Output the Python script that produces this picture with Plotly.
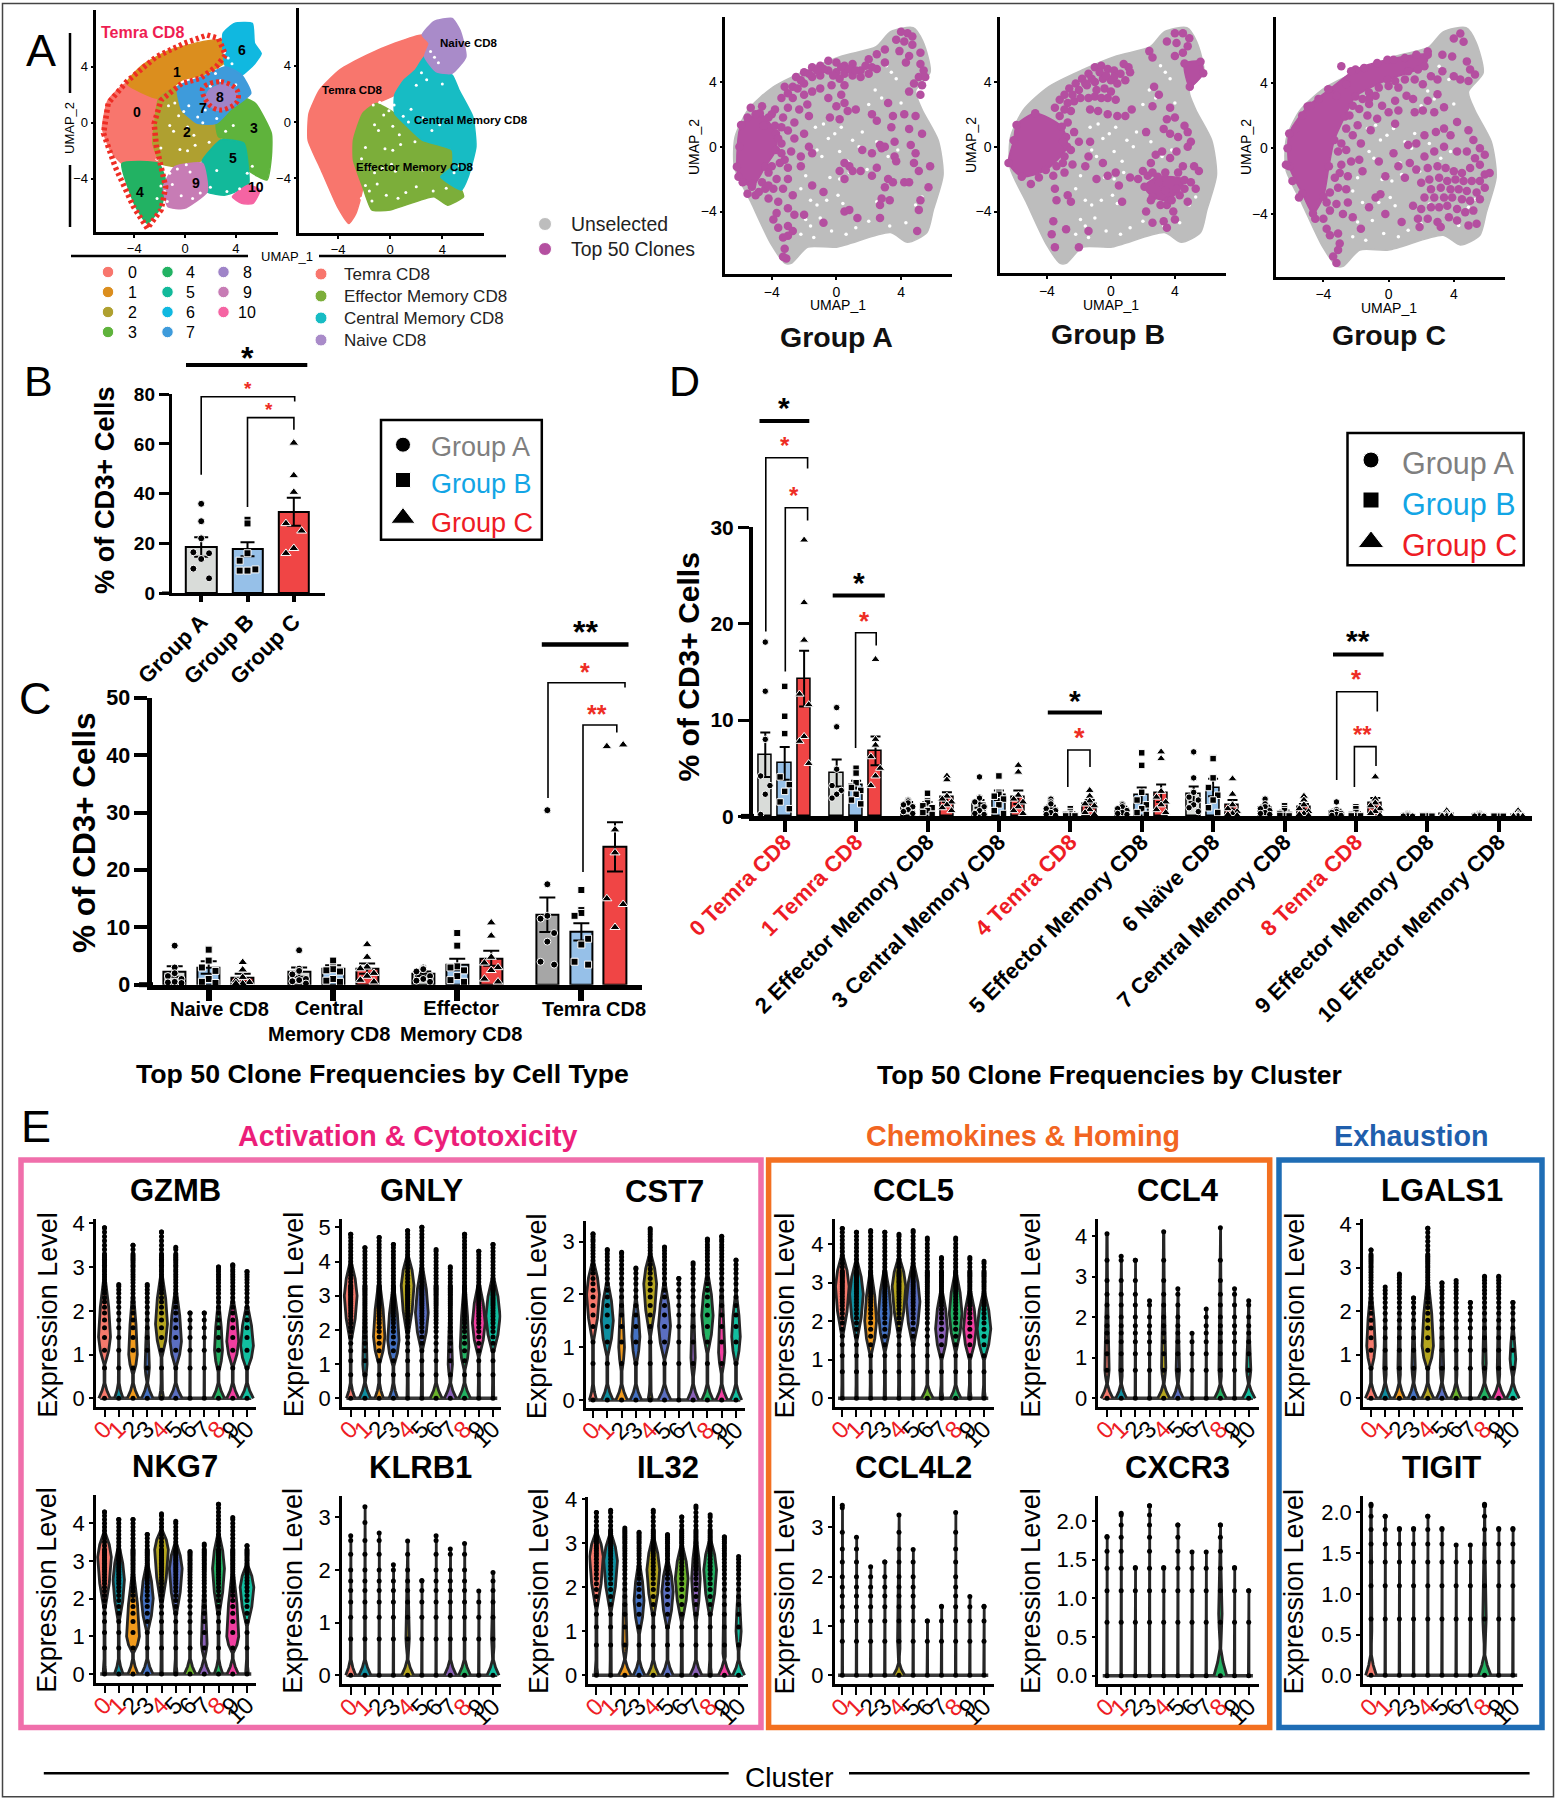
import plotly.graph_objects as go

W, H = 1557, 1800
FONT = "Liberation Sans"

# ---------------- UMAP outlines (UMAP units) ----------------
SILHOUETTE = [(-3.17,-7.2),(-4.05,-6.0),(-5.3,-3.4),(-6.3,-1.3),(-6.27,0.6),(-5.45,2.3),(-3.9,3.7),(-1.76,4.75),(0.35,5.6),(2.46,6.17),(3.35,7.1),(4.75,7.35),(5.35,6.5),(5.8,4.6),(4.9,3.45),(5.3,2.3),(6.3,0.4),(6.6,-1.75),(6.0,-3.9),(5.6,-5.3),(4.4,-5.9),(3.35,-5.3),(0,-6.2),(-1.76,-6.2),(-2.8,-7.2)]
CL0 = [(-6.5,-0.4),(-6.05,1.6),(-4.6,2.8),(-2.07,1.73),(-2.43,0.2),(-2.6,-1.47),(-2.07,-2.9),(-4.96,-2.9),(-5.87,-1.95)]
CL1 = [(-4.6,2.8),(-3.35,4.1),(-1.16,5.17),(1.38,5.77),(2.83,5.88),(3.2,4.34),(1.38,3.4),(-0.25,3.04),(-2.07,1.73)]
CL2 = [(-2.07,1.73),(-0.6,2.56),(-0.25,0.9),(1.0,-0.05),(2.46,-0.05),(2.83,-1.23),(1.38,-2.66),(-0.8,-3.13),(-1.88,-2.9),(-2.54,-1.47),(-2.36,0.2)]
CL3 = [(4.28,1.85),(5.54,1.38),(6.8,-0.76),(6.8,-2.42),(6.45,-4.08),(5.0,-3.37),(4.64,-1.47),(2.64,-1.0),(2.46,-0.05),(3.55,0.9)]
CL4 = [(-4.96,-2.9),(-2.07,-2.9),(-1.52,-4.2),(-1.88,-5.98),(-2.97,-7.16),(-3.88,-5.98)]
CL5 = [(2.83,-1.23),(4.64,-1.47),(5.0,-3.37),(5.0,-4.44),(3.19,-5.15),(1.74,-4.91),(1.38,-3.37),(1.38,-2.66)]
CL6 = [(3.0,6.36),(3.9,7.07),(5.3,7.07),(5.47,5.65),(6.0,4.93),(5.5,4.22),(4.46,3.4),(3.2,3.99)]
CL7 = [(1.38,3.27),(3.2,3.99),(4.46,3.4),(5.18,2.09),(3.55,0.9),(2.46,-0.05),(1.0,-0.05),(-0.25,0.9),(-0.6,2.56)]
CL8 = [(1.92,2.32),(3.19,2.8),(4.1,2.09),(3.73,1.14),(2.46,0.9),(1.56,1.61)]
CL9 = [(-0.8,-3.13),(1.38,-2.9),(1.74,-4.91),(-0.07,-6.1),(-1.34,-5.98),(-1.7,-4.56)]
CL10 = [(3.73,-5.27),(5.0,-4.44),(5.9,-4.8),(5.36,-5.74),(4.46,-5.74)]
CLUSTER_SHAPES = [CL0,CL1,CL2,CL3,CL4,CL5,CL6,CL7,CL9,CL10,CL8]
CLUSTER_COLORS = ["#F8766D","#DB8E1E","#AFA030","#5FB33C","#22B263","#12B99A","#10B8E0","#3E9BDB","#C77CB5","#F564A3","#9F84C8"]
TYPE_TEMRA = [(-3.17,-7.2),(-4.05,-6.0),(-5.3,-3.4),(-6.3,-1.28),(-6.23,0.61),(-5.42,2.27),(-3.87,3.69),(-1.76,4.75),(0.35,5.58),(2.46,6.17),(2.99,5.58),(2.64,4.63),(1.94,3.69),(1.06,2.98),(0.35,1.92),(-1.06,1.32),(-2.11,0.61),(-2.82,-1.28),(-2.82,-2.7),(-2.11,-4.6),(-2.64,-6.5)]
TYPE_EM = [(-2.82,-2.7),(-2.82,-1.28),(-2.11,0.61),(-1.06,1.32),(0.35,0.61),(1.06,-0.09),(2.46,-1.28),(4.75,-1.99),(4.75,-3.17),(3.87,-3.88),(5.46,-4.82),(5.63,-5.3),(4.4,-5.9),(3.35,-5.3),(0,-6.24),(-1.41,-6.24),(-2.11,-4.6)]
TYPE_CM = [(2.64,4.63),(3.52,3.57),(4.75,3.33),(5.28,2.27),(6.34,0.38),(6.58,-1.75),(5.99,-3.88),(5.46,-4.82),(3.87,-3.88),(4.75,-3.17),(4.75,-1.99),(2.46,-1.28),(1.06,-0.09),(0.35,0.61),(0.35,1.92),(1.06,2.98),(1.94,3.69)]
TYPE_NAIVE = [(2.46,6.17),(3.35,7.12),(4.75,7.35),(5.35,6.52),(5.81,4.63),(4.75,3.45),(3.52,3.57),(2.64,4.63),(2.99,5.58)]
TYPE_SHAPES = [TYPE_TEMRA,TYPE_EM,TYPE_CM,TYPE_NAIVE]
TYPE_COLORS = ["#F8766D","#7CAE3A","#17BCC4","#A98BC9"]
TEMRA_OUTER = [(-2.97,-7.52),(-4.06,-5.98),(-5.5,-3.13),(-6.41,-0.76),(-6.05,1.38),(-4.6,2.92),(-2.25,4.7),(-0.07,5.65),(1.74,6.24),(2.64,6.0),(3.19,4.82),(2.46,3.99),(1.2,3.16),(-0.25,2.8),(-1.88,1.61),(-2.43,-0.05),(-2.25,-1.71),(-1.88,-3.13),(-1.52,-4.56),(-1.88,-6.2),(-2.97,-7.52)]
TEMRA_INNER = [(1.38,2.44),(2.83,2.92),(4.1,2.32),(4.1,1.49),(2.83,0.9),(1.92,1.26),(1.38,2.44)]
GAPS = [(-0.1,0.8),(0.3,1.2),(-0.5,0.5),(1.4,0),(1.0,0.4),(-0.9,-0.6),(-1.2,-0.2),(0.2,-0.3),(-1.6,-3.3),(-1.2,-3.6),(-0.6,-3.3),(0.4,-3.5),(0.1,-3.0),(-1.6,-4.9),(-1.9,-4.5),(-1.0,-4.4),(3.4,4.6),(3.1,5.0),(3.7,4.2),(2.4,3.5),(2.8,3.0),(2.0,2.6),(1.6,0.9),(2.5,0.3),(3.8,-0.2),(3.2,-0.6),(0.8,-1.6),(0.2,-2.0),(-1.9,-1.8),(-2.2,-2.6),(-1.4,-5.6),(-2.2,-5.4),(4.9,-3.6),(5.3,-3.1),(1.2,-5.0),(2.0,-4.6),(-0.3,-5.2),(0.6,-5.4),(3.3,-4.9),(4.0,2.7),(-1.3,1.2),(-0.8,1.4),(0.7,-0.9),(1.9,-1.4),(-0.4,-1.9),(2.5,-3.4),(4.3,-4.7)]
BLOB_A = [(-6.16,-1.23),(-5.9,1.34),(-4.74,2.06),(-3.74,0.82),(-3.74,-0.2),(-4.4,-1.23),(-5.23,-2.47),(-6.06,-1.85)]
BLOB_B1 = [(-6.4,-1),(-6.07,0.4),(-5.9,1.34),(-4.73,2.06),(-3.07,1.23),(-2.73,0),(-4.07,-1.44),(-5.57,-1.85)]
BLOB_B2 = [(2.1,-2.47),(2.93,-1.85),(4.6,-2.06),(3.6,-3.3),(2.6,-3.1)]
BLOB_B3 = [(4.6,5.14),(5.6,5.25),(5.77,4.53),(4.93,3.7)]
BLOB_C = [(-6.1,-1.1),(-6.1,0.9),(-4.97,2.55),(-3.66,3.57),(-2.03,4.8),(-0.07,5.4),(2.4,5.7),(2.2,5),(-0.07,4.18),(-2.03,3.16),(-2.68,1.94),(-3.33,0.5),(-3.66,-1.1),(-4,-2.96),(-4.64,-3.98),(-5.3,-2.75)]
CLONES_A = [(4.0,7.1),(4.4,7.0),(4.7,6.8),(3.7,6.6),(4.2,6.5),(4.7,6.3),(3.0,6.0),(3.9,5.9),(4.5,5.6),(5.2,5.8),(4.3,5.2),(5.2,5.1),(5.4,4.7),(5.1,4.3),(5.5,4.3),(4.8,3.9),(5.3,3.8),(4.5,3.4),(5.2,3.2),
 (-2.5,4.3),(-2,4.6),(-1.5,4.9),(-1,5),(-0.5,5.3),(0,5.2),(0.5,5.0),(1,5.1),(1.5,4.7),(2,4.5),(2.5,4.8),(-0.5,4.7),(0,4.6),(0.5,4.5),(1,4.4),(1.5,4.3),(-1,4.4),(-1.5,4.3),(-2,3.9),(-2.7,3.7),(-3.2,3.7),(2.5,5.7),(3,5.2),(2,5.4),(-3.4,3),(-2.7,3),(-2,3.2),(-1.5,3.4),(-1,3.6),(-0.3,3.8),(0.3,3.2),(0.5,3.8),(-0.5,3),(0,2.5),(0.5,2.7),(-2.3,2.3),(-1.8,2.6),(-3,2.4),(-3.8,2.3),(-4.2,1.8),(-3.3,1.8),(-2.6,1.5),(-1.7,1.9),(-0.4,1.8),(0.2,1.7),(0.7,2.2),(1.2,2.3),(2.2,2),(2.5,1.6),(3.2,2.7),(3.5,1.9),(4.2,2),(4.9,1.9),(3.4,1.2),(4.5,1.1),(5.3,0.8),(3.6,0.3),(4.6,0.1),(4.9,-0.4),(3.6,-0.6),(2.8,-0.1),(2.2,-0.4),(1.6,-0.2),
 (-5.5,1.8),(-5,2),(-4.5,1.3),(-3.8,1.3),(-3,1),(-2.6,0.5),(-2,0.8),(-3.4,0.2),(-2.8,-0.3),(-1.7,0),(-1.5,-0.4),(-2.2,-0.6),(-3.5,-1),(-3,-1.3),(-2.2,-1.2),(-4.2,-1.6),(-3.7,-2),(-3,-2),(-4.6,-2.2),(-5.2,-2.3),(-3.9,-2.6),(-3.3,-2.6),(-4.2,-3.2),(-3.6,-3.4),(-2.7,-3),(-1.5,-2.4),(-0.8,-2.8),(-5,-3),(-3,-3.8),
 (-3.7,-4.1),(-3.9,-4.5),(-3.6,-5),(-3,-4.9),(-2.7,-5.2),(-3.0,-5.5),(-3.3,-5.6),(-3.2,-6.3),(-3.1,-6.9),(-3.3,-6.8),(-2.6,-4.2),(-2,-4.2),(-0.8,-4.7),(0.5,-4),(0.8,-3.9),(1.3,-4.4),(2.7,-4.4),(2.7,-3.6),(2.8,-3.2),(3.3,-3.3),(5,-5.2),(5.1,-3.9),(5.2,-3.3),(4.2,-2.2),(4.5,-2.2),(3.5,-2.2),(3,-2.5),(3.2,-2),(2.2,-1.8),(2.5,-1.3),(3.7,-0.9),(0.8,-1.2),(1,-1.5),(0.5,-1),(0.2,-1.5),(0.5,-2),(1.5,-1.5),(2.7,0.1),(3,0),(5.8,-1.2),(5.7,-2.5),(4.8,-1),(5.1,-1.5),
 (-5.8,-2.2),(-5.5,-2.9),(-6,0),(-5.3,2.4),(-4.6,2.5),(-4,2),(-3.4,1.2),(-3.4,-0.4),(-3.6,0.5),(-4,-1.2),(-3.2,-0.8),(-4.8,-2.8),(-4.4,-2.6),(-4.2,-2.4),(-0.2,4.4),(0.3,4.9),(0.8,4.8),(1.2,4.7),(1.8,5),(2.2,4.9),(0.2,4.2),(-0.8,4.8),(-1.2,4.7),(-1.7,4.5),(-2.2,4.1),(-2.4,3.6),(-3,3.3)]
CLONES_B = [(4,7),(4.5,7),(4.9,6.7),(3.5,6.5),(4.1,6.4),(4.8,6.2),(2.4,5.9),(2.6,5.5),(4,5.6),(4.5,5.8),(1.1,4.9),
 (-3.2,2.9),(-2.9,3.2),(-2.6,3.6),(-2.2,3.9),(-1.8,4.2),(-1.4,4.5),(-1,4.9),(-0.6,5.0),(-0.2,4.8),(0.2,4.7),(0.6,4.5),(-1.5,3.8),(-1,4),(-0.5,4.2),(0,4.1),(0.4,3.9),(0.9,4.1),(1.2,4.6),(0.8,5.1),(-2.7,2.7),(-2.3,2.8),(-1.9,3),(-1.4,3),(-1,3.1),(-0.6,3),(-0.2,3),(0.3,2.9),(-2.5,2.2),(-3.2,1.9),(-1.3,2.3),(-0.8,2.2),(-0.2,2),(0.4,1.9),(0.9,1.9),(1.3,2.3),(2.7,3.7),(3,3.2),(3.7,2.4),(2.6,2.5),(3.5,1.7),(4,1.8),(4.6,1.3),(3.3,1.1),(2.2,0.9),(3.7,0.8),(4.2,0.6),(4.8,0.9),(5,0.3),
 (-2.8,0.6),(-2.3,0.9),(-2.5,-0.2),(-2,0.3),(-2.9,-0.6),(-3.4,-1.2),(-2.9,-1.6),(-2.4,-1.1),(-1.3,0.3),(-1.4,-0.6),(-1.6,-1.2),(-0.5,-1),(-0.2,-1.8),(-0.9,-2),(-3.5,-2.6),(-3.4,-3.3),(-2.7,-3),(-2.5,-3.4),(-3.6,-4.6),(-3.7,-5.4),(-3.5,-6.2),(-2,-6.2),(-2.8,-5.1),(-1.4,-5.2),
 (2.5,-1),(2.8,-0.5),(3.2,-0.3),(3.7,-0.7),(4.1,-0.3),(4.8,0),(2,-1.5),(1.2,-1.9),(1.7,-2),(0.7,-3.4),(0.5,-2.4),(0.3,-1.6),(4.3,-3),(4.8,-3.4),(3.5,-3.6),(3.9,-4),(4,-4.5),(3.5,-5),(3.3,-4.6),(2.2,-4),(2.6,-4.7),(2.3,-1.8),(5.5,-1.5),(5.2,-1.2),(5,-2.2),(5.3,-2.6),(4.5,-1.2),
 (-2.4,3.2),(-2,3.5),(-1.6,3.9),(-1.2,4.2),(-0.7,4.6),(-0.3,4.4),(0.2,4.3),(-0.9,3.5),(-0.4,3.6),(0,3.4),(-2.9,2.3),(-3.5,2.4),(-2.7,1.5),(-3,-1),(-3.6,-1.8),(-4.5,-1.9),(-5,-2.3),(-3,0.3),(3,-2.2),(3.4,-1.6),(2.6,-1.6),(4.2,-1.6),(4.6,-2.6),(3.1,-3.6),(2.5,-3.3),(3.8,-3.3),(4.1,-2.6),(3.4,-2.7)]
CLONES_C = [(4.4,7.0),(4,6.7),(4.6,6.5),(3.3,5.7),(3.9,5.6),(4.8,5.3),(5,4.8),(5.3,4.5),(4.9,4.1),(4.4,4.2),(4,4.4),(3.3,4.7),(3,4.2),(2.6,4.4),(2.1,3.9),(1.6,4.2),(1,4.2),(0.6,3.7),(1.1,3.2),(0.4,2.9),(1.5,3),(2.4,2.9),(3,3.3),(3.4,2.5),(2.8,2.2),(2.1,2.3),(1.6,2.2),(0.6,2.3),(0,2.2),(0.4,1.5),(-0.4,2.6),(-0.8,3.2),(-1.2,2.7),(-1.3,2),(-1.8,2.4),(-0.7,1.8),(-1.1,1.1),(-1.9,1.4),(-2.2,0.8),(-1.7,0.3),(-2.6,-0.1),(-2.3,-0.8),(-1.8,-0.7),(-3,-1.5),(-2.5,-1.7),(-1.6,-1.4),(-3.1,-2.4),(-2.6,-2.5),(-3.2,-3.4),(-2.5,-3.3),(-3.6,-3.8),(-2.8,-4),(-3.8,-4.9),(-3.6,-5.3),(-3.1,-5.2),(-3,-5.8),(-3.1,-6.2),(-3.4,-6.6),(-3.2,-7),(-2.2,-4.2),(-1.7,-4.9),(-0.8,-3),(-0.6,-0.8),(-0.2,-1.7),(-0.5,-2.8),(0.3,-0.3),(0.6,-1.1),(1,-1.8),(1.3,-0.9),(1.2,0.2),(1.7,0.3),(2.2,0.8),(2.9,1),(3.4,1.2),(3.8,0.8),(4.2,1.6),(4.9,1.1),(5.2,0.5),(5.6,0),(5.9,-0.4),(5.3,-0.6),(4.8,-0.2),(4.2,-0.2),(3.4,0.1),(2.8,-0.2),(2.2,-0.5),(1.7,-1.3),(2.4,-1.2),(3,-1.1),(3.5,-1.2),(4,-1.4),(4.5,-1.5),(5,-1.2),(5.6,-1),(5.9,-1.6),(6.2,-1.5),(5.6,-2),(5.1,-2),(4.6,-2),(4.1,-1.9),(3.6,-2),(3.1,-1.8),(2.5,-1.9),(2,-2.1),(2.6,-2.5),(3.2,-2.4),(3.8,-2.5),(4.3,-2.5),(4.8,-2.6),(5.4,-2.7),(5.9,-2.4),(2.2,-3),(2.8,-3),(3.4,-3),(3.9,-3),(4.5,-3.1),(5,-3.2),(5.6,-3.1),(1.5,-3.5),(2,-3.7),(2.6,-3.6),(3.1,-3.6),(3.6,-3.5),(4.2,-3.7),(4.7,-3.9),(5.2,-3.8),(1.8,-4.3),(2.4,-4.3),(3,-4.5),(3.7,-4.2),(4.2,-4.4),(4.9,-4.7),(5.4,-4.6),(0.8,-4.5),(-0.2,-4),(-1.2,-3.6),(1.9,-4.8),(3.2,-4.8),
 (-2.6,1.2),(-2.9,0.3),(-3.1,-0.2),(-2.9,-1),(-3.3,-1.8),(-3.6,-2.7),(-3.8,-3.3),(-4,-4.3),(-4.5,-4.3),(-1.6,3),(-1.2,3.4),(-0.6,3.7),(0,3.8),(0.4,4.1),(1.2,4.7),(1.8,4.8),(-2.2,2.6),(-2.4,2),(-1.2,3),(-2.6,3.9),(-3.2,3.2),(-3.7,3.6),(-4.3,3),(-4.8,2.6),(-5.3,2),(-5.7,1.2),(-6.2,0),(-6.3,-1),(-5.9,-2),(-5.5,-3),(-2.9,5),(0.3,5.4),(1,5.5),(1.7,5.7),(2.4,5.9),(-0.7,5.2),(-1.5,4.9),(-2.3,4.7)]

# ---------------- Bar data ----------------
B_GROUPS = ["Group A","Group B","Group C"]
B_MEANS = [18.5,17.6,32.7]
B_ERRS = [3.9,2.8,5.6]
B_PTS = [[35.9,28.9,22,16.4,16,13.7,9.8,5.9],[29.5,28,16,13,9.5,9,9],[60.4,47.3,40.6,28,25,18,16]]

C_LABEL_LINES = ["Naive CD8","Central<br>Memory CD8","Effector<br>Memory CD8","Temra CD8"]
C_MEANS = [2.3,3.0,1.2, 2.2,2.8,2.8, 1.9,3.5,4.6, 12.2,9.2,24.0]
C_ERRS = [0.9,1.1,0.7, 0.8,0.6,0.9, 0.4,1.0,1.3, 3.0,1.5,4.3]
C_PTS = [[6.8,3,2,1.5,1,.5,.4,.3],[6.2,6.1,4.2,3,2.4,1,.5,.3],[3.9,2.6,1.3,.7,.4,.2,.2],
 [6,2.8,2.4,1.8,1,.8,.6,.2],[4.2,3,2.7,2.5,2.3,1,.7,.5],[7,4.8,3.1,2.8,2,1.5,.8,.5],
 [3,2.8,2.7,2.3,1.5,1,.7,.5],[9,6.8,3.2,3,2.5,1.5,.8,.5],[10.8,8.5,4.8,3.8,3,2.5,1,.5],
 [30.4,17.5,12,11.5,9,7.5,4,3.5],[16.5,13,12.5,12,8,7,4,3.5],[41.5,41.8,27,23,15,14,10]]
C_LAST_SWARM = [-1.2,1.2,0,0,-1.2,1.2,0]

D_LABELS = ["0 Temra CD8","1 Temra CD8","2 Effector Memory CD8","3 Central Memory CD8","4 Temra CD8","5 Effector Memory CD8","6 Naïve CD8","7 Central Memory CD8","8 Temra CD8","9 Effector Memory CD8","10 Effector Memory CD8"]
D_MEANS = [[6.4,4.5,1.0,1.3,0.8,0.8,2.3,0.9,0.5,0.1,0.1],[5.5,3.3,1.1,2.2,0.25,2.2,3.0,0.4,0.3,0.08,0.05],[14.3,6.8,2.0,2.0,1.3,2.4,1.2,1.0,1.4,0.2,0.15]]
D_ERRS = [[2.3,1.4,.5,.4,.3,.2,.8,.2,.2,.03,.03],[1.7,.4,.4,.5,.2,.8,.9,.2,.15,.02,.02],[2.9,1.5,.5,.7,.4,.9,.5,.3,.5,.06,.06]]
D_PTS = [
 [[18.1,13,8,4.2,3.2,2.3,.2],[11.3,9.3,4.9,3.2,2.7,2.3,1.9],[1.7,1.6,1.4,1.2,1,.7,.5,.3],[4.1,2,1.9,1.5,1,.6,.3,.2],[1.8,1.5,1.3,.8,.6,.4,.2,.1],[1.3,1.2,1,.8,.6,.4,.3,.2],[6.7,4,2.5,2,1.7,1.2,.9,.5],[1.8,1.3,1,.8,.6,.4,.3,.2],[1.5,.7,.5,.4,.3,.2,.1,.1],[.3,.2,.15,.1,.05,.05,.03,.02],[.3,.2,.15,.1,.08,.05,.03,.02]],
 [[13.5,10.4,8.6,4.1,3.3,2.6,1.5,.8],[5,4.5,3.5,3,2.7,2.3,1.7,1.3],[2.4,1.6,1.4,1.1,.9,.6,.4,.2],[4.2,2.5,2.3,2.1,1.8,1.2,.6,.3],[.8,.5,.3,.2,.1,.1,.05,.05],[6.6,5.3,2.5,1.7,1.2,.8,.4,.2],[6.1,6,4,3,2.2,1.7,.9,.4],[1.1,.8,.6,.3,.2,.1,.1,.05],[1,.8,.4,.2,.1,.1,.05,.05],[.15,.1,.1,.08,.05,.05,.03,.02],[.12,.1,.08,.05,.03,.02,.02,.01]],
 [[28.7,22.2,18.3,12.7,11.6,8.3,7.8,5.5],[16.3,8,7.4,6.2,5,4.2,3.2],[4.2,3.8,2.1,1.8,1.5,1.2,.9,.6],[5.3,4.6,2.2,1.8,1.5,1,.6,.3],[2.7,2.1,1.6,1.3,1.1,.7,.4,.2],[6.7,6,2.6,2,1.5,1.2,.7,.4],[3.9,2.3,1.2,.8,.5,.3,.2,.1],[2.1,1.7,1.2,.8,.5,.3,.2,.1],[4.1,1.8,1.4,1.1,.8,.5,.3,.1],[.6,.3,.2,.15,.1,.05,.05,.03],[.6,.3,.2,.1,.05,.05,.03,.02]]]
SWARM = [0,0,0,-1,1,0,-1,1]

# ---------------- Violin data ----------------
VLN_COLORS = ["#F5796C","#0F8FA0","#F09A1C","#4472C4","#B5A51E","#5B6FC2","#6BB42B","#8A60B8","#22B262","#F13EA0","#12BFA0"]
GZMB = dict(maxv=[3.9,2.6,3.5,2.6,3.8,3.45,1.95,1.95,3.0,3.05,2.9], base=[.4,.3,.4,.4,.15,.45,0,0,.42,.42,.45], peak=[1.4,0,1.0,.7,1.7,1.3,0,0,1.1,1.3,1.2], pw=[.42,0,.3,.15,.42,.4,0,0,.28,.42,.45], neck=.35)
GNLY = dict(maxv=[4.8,4.4,4.7,4.5,4.9,5,4.35,3.85,4.8,4.3,4.5], base=[.3,.4,.3,.3,.05,.05,.42,.42,.42,.05,.05], peak=[3,1,1.8,1.7,3.3,2.5,0,1,1.5,2.2,2.4], pw=[.45,.15,.4,.4,.45,.45,0,.15,.3,.45,.5], neck=.45)
CST7 = dict(maxv=[3.15,2.85,2.8,2.5,3.25,2.9,2.3,2.6,3.05,3.1,2.65], base=[.25,.4,.4,.4,.15,.45,0,.4,.4,.4,.4], peak=[2,1.5,1,1.2,2.2,1.4,0,.8,1.6,.9,1.2], pw=[.45,.42,.2,.28,.45,.42,0,.15,.4,.22,.3], neck=.3)
NKG7 = dict(maxv=[4.3,4.1,4.1,3.7,4.25,4.05,3.25,3.45,4.5,4.15,3.4], base=[.1,.3,.35,.4,.05,.1,.4,.4,.3,.4,.1], peak=[3.1,2.5,1,2,3.3,2.8,0,.8,2.8,1,2.3], pw=[.48,.4,.45,.42,.48,.45,0,.2,.42,.42,.48], neck=.4)
KLRB1 = dict(maxv=[2.65,3.2,2.7,2.1,2.55,1.8,2.65,2.4,2.5,1.6,1.95], base=[.35,.42,0,0,.42,0,0,.42,.42,0,.42], peak=[0,0,0,0,.7,0,0,0,0,0,.7], pw=[0,0,0,0,.12,0,0,0,0,0,.1], neck=.3, sparse=True)
IL32 = dict(maxv=[3.7,3.75,3.35,3.25,3.75,3.2,3.6,3.85,3.65,3.15,2.7], base=[.1,.05,.45,.4,.4,.4,.05,.42,.1,.42,.42], peak=[2.7,2.6,.7,1.7,2.4,1.9,2.2,2.2,2.4,.5,1], pw=[.48,.48,.15,.35,.45,.4,.45,.3,.45,.1,.18], neck=.35)
CCL5 = dict(maxv=[4.4,4.3,4.35,4.3,4.25,4.35,4.15,3.65,4.15,3.65,3.55], base=[.05,.05,.05,.05,.05,.05,.42,.1,.38,.1,.1], peak=[2.9,2.7,2,2.2,2.9,2.5,0,1.8,2.2,1.8,1.8], pw=[.48,.48,.42,.45,.48,.48,0,.42,.45,.45,.48], neck=.35)
CCL4 = dict(maxv=[4.05,3.5,3.4,2.4,4.1,2.7,1.6,2.2,4.2,2.7,2.4], base=[.42,.38,0,0,.42,.38,0,0,.42,0,.45], peak=[.7,.7,0,0,.75,.7,0,0,.7,0,.7], pw=[.15,.1,0,0,.15,.12,0,0,.1,0,.15], neck=.35, sparse=True)
LGALS1 = dict(maxv=[3.4,2.55,2.85,2.3,3.9,2.65,2.7,2.2,2.8,2.8,2.2], base=[.4,.38,.38,.38,.42,.38,.38,0,.45,.45,.45], peak=[1.2,.7,.7,.7,1.2,.7,.7,0,.8,.7,.9], pw=[.3,.1,.1,.12,.4,.12,.08,0,.12,.1,.2], neck=.35)
CCL4L2 = dict(maxv=[3.45,2.8,2.2,2.3,3.25,2.55,1.1,1.4,3.3,1.6,1.4], base=[0,0,0,0,.4,0,0,0,0,0,0], peak=[0,0,0,0,.7,0,0,0,0,0,0], pw=[0,0,0,0,.1,0,0,0,0,0,0], neck=.25, sparse=True)
CXCR3 = dict(maxv=[1.8,2.1,1.4,2.2,1.4,1.95,1.6,1.6,1.95,1.4,1.1], base=[0,0,0,0,0,0,0,0,.45,0,0], peak=[0,0,0,0,0,0,0,0,.8,0,0], pw=[0,0,0,0,0,0,0,0,.12,0,0], neck=.35)
TIGIT = dict(maxv=[2.1,1.95,1.8,1.8,1.95,1.8,1.6,1.6,2.1,1.8,1.8], base=[.38,0,0,0,0,0,0,0,.45,0,0], peak=[.7,0,0,0,0,0,0,0,.7,0,0], pw=[.08,0,0,0,0,0,0,0,.12,0,0], neck=.25)
LEVELS = [0,.69,1.1,1.39,1.61,1.79,1.95,2.08,2.2,2.3,2.4,2.48,2.56,2.64,2.71,2.77,2.83,2.89,2.94,3,3.04,3.09,3.14,3.18,3.22,3.26,3.3,3.4,3.5,3.6,3.7,3.8,3.9,4,4.1,4.2,4.3,4.4,4.5,4.6,4.7,4.8,4.9,5]
SPARSE_LEVELS = [0,.69,1.1,1.39,1.61,1.79,2.0,2.3,2.56,2.9,3.4]
VLN_TICK_NAMES = ["0","1","2","3","4","5","6","7","8","9","10"]
RED_CLUSTERS = [0,1,4,8]

# ---------------- Helpers ----------------
fig = go.Figure()
layout = {}
shapes, annos = [], []
counter = [0]
OV = 40  # overlay axis number: whole page in pixels

def panel(left, right, top, bottom, x0, xu, y0, yu, xopts=None, yopts=None):
    counter[0] += 1
    i = counter[0]
    xa = dict(domain=[left/W, right/W], range=[(left-x0)/xu, (right-x0)/xu], anchor=f"y{i}", showgrid=False, zeroline=False, automargin=False,
              showline=True, linecolor="black", linewidth=2.5, ticks="outside", tickcolor="black", fixedrange=True,
              tickfont=dict(family=FONT, size=13, color="black"))
    ya = dict(domain=[1-bottom/H, 1-top/H], range=[(y0-bottom)/yu, (y0-top)/yu], anchor=f"x{i}", showgrid=False, zeroline=False, automargin=False,
              showline=True, linecolor="black", linewidth=2.5, ticks="outside", tickcolor="black", fixedrange=True,
              tickfont=dict(family=FONT, size=13, color="black"))
    xa.update(xopts or {})
    ya.update(yopts or {})
    layout[f"xaxis{i}"] = xa
    layout[f"yaxis{i}"] = ya
    return f"x{i}", f"y{i}"

def T(x, y, text, size, color="black", bold=False, angle=0, xanchor="center"):
    annos.append(dict(xref=f"x{OV}", yref=f"y{OV}", x=x, y=y, text=f"<b>{text}</b>" if bold else text, showarrow=False,
                      font=dict(family=FONT, size=size, color=color), textangle=angle, xanchor=xanchor, yanchor="middle", align="center"))

def L(x0, y0, x1, y1, w=2, color="black", dash=None):
    shapes.append(dict(type="line", xref=f"x{OV}", yref=f"y{OV}", x0=x0, y0=y0, x1=x1, y1=y1, line=dict(color=color, width=w, dash=dash)))

def R(x0, y0, x1, y1, w=2, color="black"):
    shapes.append(dict(type="rect", xref=f"x{OV}", yref=f"y{OV}", x0=x0, y0=y0, x1=x1, y1=y1, line=dict(color=color, width=w), fillcolor="rgba(0,0,0,0)"))

def bracket(xa, ya, xb, ytop, yb, w=1.6):
    shapes.append(dict(type="path", xref=f"x{OV}", yref=f"y{OV}", path=f"M{xa},{ya} L{xa},{ytop} L{xb},{ytop} L{xb},{yb}", line=dict(color="black", width=w)))

def star(x, y, text, size, color="black"):
    T(x, y + size*0.18, text, size, color, bold=True)

def poly(pts, color, xr, yr, line=None, smooth=0.7):
    xs = [p[0] for p in pts] + [pts[0][0]]
    ys = [p[1] for p in pts] + [pts[0][1]]
    fig.add_trace(go.Scatter(x=xs, y=ys, mode="lines", fill="toself", fillcolor=color, line=dict(color=line or color, width=1.5, shape="spline", smoothing=smooth), xaxis=xr, yaxis=yr, hoverinfo="skip", showlegend=False))

def dots(pts, color, size, xr, yr):
    fig.add_trace(go.Scatter(x=[p[0] for p in pts], y=[p[1] for p in pts], mode="markers", marker=dict(color=color, size=size), xaxis=xr, yaxis=yr, hoverinfo="skip", showlegend=False))

UMAP_X = dict(tickvals=[-4,0,4], ticklen=3, tickwidth=1.5)
UMAP_Y = dict(tickvals=[-4,0,4], ticklen=3, tickwidth=1.5)

# ---------------- Panel A ----------------
xr, yr = panel(96.4, 277.8, 10, 232, 185, 12.7, 122.7, 14.05, UMAP_X, UMAP_Y)
for pts, c in zip(CLUSTER_SHAPES, CLUSTER_COLORS):
    poly(pts, c, xr, yr, smooth=0.5)
dots(GAPS, "white", 3, xr, yr)
fig.add_trace(go.Scatter(x=[p[0] for p in TEMRA_OUTER], y=[p[1] for p in TEMRA_OUTER], mode="lines", line=dict(color="#EE2D24", width=5.5, dash="3px,3px"), xaxis=xr, yaxis=yr, hoverinfo="skip", showlegend=False))
fig.add_trace(go.Scatter(x=[p[0] for p in TEMRA_INNER], y=[p[1] for p in TEMRA_INNER], mode="lines", line=dict(color="#EE2D24", width=5, dash="3px,3px", shape="spline"), xaxis=xr, yaxis=yr, hoverinfo="skip", showlegend=False))

xr, yr = panel(299.3, 484, 8, 233, 390.2, 13.03, 122, 14.1, UMAP_X, UMAP_Y)
for pts, c in zip(TYPE_SHAPES, TYPE_COLORS):
    poly(pts, c, xr, yr, smooth=0.5)
dots(GAPS, "white", 3, xr, yr)

GROUP_AXES = [(725.3,952.3,17,274,836.4,16.16,146.7,16.2),(1000,1225.7,17,273,1110.9,16.0,146.7,16.2),(1276.4,1505,17,276.7,1388.6,16.3,148.3,16.4)]
GROUP_BLOBS = [[BLOB_A],[BLOB_B1,BLOB_B2,BLOB_B3],[BLOB_C]]
GROUP_CLONES = [CLONES_A,CLONES_B,CLONES_C]
UG = dict(UMAP_X); UG["tickfont"] = dict(family=FONT, size=14, color="black")
for ax, blobs, clones in zip(GROUP_AXES, GROUP_BLOBS, GROUP_CLONES):
    xr, yr = panel(*ax, UG, UG)
    poly(SILHOUETTE, "#BDBDBD", xr, yr)
    dots(GAPS, "white", 3.5, xr, yr)
    for b in blobs:
        poly(b, "#B44FA0", xr, yr)
        dots(b, "#B44FA0", 8.5, xr, yr)
    dots(clones, "#B44FA0", 8.5, xr, yr)

T(41, 50, "A", 45)
T(142, 32, "Temra CD8", 16, "#EE1D52", bold=True)
for n, (x, y) in zip(VLN_TICK_NAMES, [(136.8,112.3),(176.7,71.7),(187.3,132.3),(253.8,128.3),(140,192.3),(232.7,158.3),(242,50),(202.9,107.7),(220.3,96.7),(196,182.7),(256,186.7)]):
    T(x, y, n, 14, bold=True)
for txt, x, y in [("Naive CD8",468,42.7),("Temra CD8",352,90),("Central Memory CD8",471,120),("Effector Memory CD8",414.5,166.7)]:
    T(x, y, txt, 11.5, bold=True)
T(69, 128, "UMAP_2", 13, angle=-90)
L(70, 33, 70, 93, 2.5); L(70, 165, 70, 227, 2.5)
T(287, 256, "UMAP_1", 13)
L(71, 256, 248, 256, 2.5); L(319, 256, 506, 256, 2.5)

ov_x, ov_y, ov_c, ov_s, ov_m = [], [], [], [], []
def key(x, y, c, s, m="circle"):
    ov_x.append(x); ov_y.append(y); ov_c.append(c); ov_s.append(s); ov_m.append(m)

for k, (dx, tx, rows) in enumerate([(108,132,range(4)),(167.5,190,range(4)),(223.5,247,range(3))]):
    for r in rows:
        idx = k*4 + r
        y = [272,292,312,332][r]
        key(dx, y, ["#F8766D","#DB8E1E","#AFA030","#5FB33C","#22B263","#12B99A","#10B8E0","#3E9BDB","#9F84C8","#C77CB5","#F564A3"][idx], 11.5)
        T(tx, y, VLN_TICK_NAMES[idx], 16)
for lab, c, y in zip(["Temra CD8","Effector Memory CD8","Central Memory CD8","Naive CD8"], TYPE_COLORS, [274,296,318,340]):
    key(321, y, c, 12)
    T(342, y, lab, 17, color="#222", xanchor="left")
for lab, c, y in zip(["Unselected","Top 50 Clones"], ["#BDBDBD","#B44FA0"], [224,249]):
    key(545, y, c, 13)
    T(569, y, lab, 19.4, color="#222", xanchor="left")
for txt, x, y, a in [("UMAP_1",837.5,305,0),("UMAP_1",1111.4,305,0),("UMAP_1",1389,308,0),("UMAP_2",694,147,-90),("UMAP_2",971,145,-90),("UMAP_2",1246,147,-90)]:
    T(x, y, txt, 14, angle=a)
for txt, x, y in [("Group A",836,337),("Group B",1108,334),("Group C",1389,335)]:
    T(x, y, txt, 28.5, "#111", bold=True)

# ---------------- Bars ----------------
def bars(xr, yr, xs, means, errs, colors, width, pts, syms, msize, spread, capw, lw=2, swarms=None):
    fig.add_trace(go.Bar(x=xs, y=means, width=width, marker=dict(color=colors, line=dict(color="black", width=lw)),
                         error_y=dict(type="data", array=errs, arrayminus=errs, color="black", thickness=2, width=capw), xaxis=xr, yaxis=yr, hoverinfo="skip", showlegend=False))
    px, py, ps, pz = [], [], [], []
    for i, (x, vals, s) in enumerate(zip(xs, pts, syms)):
        for o, v in zip((swarms or {}).get(i, SWARM), vals):
            px.append(x + o*spread); py.append(v); ps.append(s)
            pz.append(msize*1.25 if s == "triangle-up" else msize)
    fig.add_trace(go.Scatter(x=px, y=py, mode="markers", marker=dict(color="black", size=pz, symbol=ps, opacity=1), cliponaxis=False, xaxis=xr, yaxis=yr, hoverinfo="skip", showlegend=False))

# B
xr, yr = panel(171.8, 325.4, 393.9, 593, 201.2, 46.3, 593, 2.484,
    dict(tickvals=[0,1,2], ticktext=[f"<b>{g}</b>" for g in B_GROUPS], tickangle=-45, ticklen=6, tickwidth=4, linewidth=3, ticklabelstandoff=-2, tickfont=dict(family=FONT, size=22, color="black")),
    dict(tickvals=[0,20,40,60,80], ticktext=[f"<b>{v}</b>" for v in [0,20,40,60,80]], ticklen=10, tickwidth=3, linewidth=3, tickfont=dict(family=FONT, size=19, color="black")))
bars(xr, yr, [0,1,2], B_MEANS, B_ERRS, ["#D9DCD9","#96C0E8","#F04545"], .655, B_PTS, ["circle","square","triangle-up"], 7, .17, 7)
T(104, 490, "% of CD3+ Cells", 27.2, bold=True, angle=-90)
L(162, 593, 172, 593, 3)
L(186, 365, 307.3, 365, 4); star(247, 352, "*", 32)
bracket(201.2, 474.7, 294.7, 396.7, 401.6); bracket(247.5, 507, 293.9, 417.6, 429.7)
star(247.5, 384.6, "*", 19, "#EE2D24"); star(269.4, 406.4, "*", 19, "#EE2D24")
R(381, 420, 541.8, 539.7, 2.5)
def legend_block(mx, my, tx, ty, size, ms):
    for m, y, t, lab, c in zip(["circle","square","triangle-up"], my, ty, ["Group A","Group B","Group C"], ["#7F7F7F","#12A5E5","#EE1C25"]):
        key(mx, y, "black", ms*1.4 if m == "triangle-up" else ms, m)
        T(tx, t, lab, size, c, xanchor="left")
legend_block(403, [444.7,480,518], 429.4, [446.6,484.4,522.7], 27, 15)

# C
C_X = [0,1,2, 3.66,4.66,5.66, 7.31,8.31,9.31, 10.96,11.96,12.95]
xr, yr = panel(152.4, 642, 697.7, 984.7, 174.7, 34, 984.7, 5.74,
    dict(tickvals=[1,4.66,8.31,11.96], ticktext=["","","",""], ticklen=11, tickwidth=6, linewidth=5),
    dict(tickvals=[0,10,20,30,40,50], ticktext=[f"<b>{v}</b>" for v in [0,10,20,30,40,50]], ticklen=13, tickwidth=4, linewidth=5, tickfont=dict(family=FONT, size=21.5, color="black")))
bars(xr, yr, C_X, C_MEANS, C_ERRS, (["#D9DCD9","#96C0E8","#F04545"]*3)+["#A6A6A6","#96C0E8","#F04545"], .655, C_PTS, ["circle","square","triangle-up"]*4, 7, .2, 8, swarms={11: C_LAST_SWARM})
T(83.4, 832.7, "% of CD3+ Cells", 31.5, bold=True, angle=-90)
L(139, 984.7, 153, 984.7, 5)
for (x, y), t in zip([(219,1009),(329,1021),(461,1021),(594,1009)], C_LABEL_LINES):
    T(x, y, t, 20, bold=True)
L(541.8, 644.4, 628.5, 644.4, 4.5); star(585, 626, "**", 32)
bracket(548, 798, 625, 682.7, 687.5); bracket(583, 872, 616.8, 725, 732.6)
star(585, 667, "*", 25, "#EE2D24"); star(596.6, 709, "**", 25, "#EE2D24")
T(382, 1074, "Top 50 Clone Frequencies by Cell Type", 26.7, bold=True)

# D
def red(t, i):
    return f'<span style="color:#EE1C25"><b>{t}</b></span>' if i in RED_CLUSTERS else f"<b>{t}</b>"
xr, yr = panel(752.7, 1532, 527, 816.4, 784.7, 71.4, 816.4, 9.63,
    dict(tickvals=list(range(11)), ticktext=[red(t, i) for i, t in enumerate(D_LABELS)], tickangle=-45, ticklen=11, tickwidth=4, linewidth=5, ticklabelstandoff=-12, tickfont=dict(family=FONT, size=22, color="black")),
    dict(tickvals=[0,10,20,30], ticktext=[f"<b>{v}</b>" for v in [0,10,20,30]], ticklen=11, tickwidth=3, linewidth=3.5, tickfont=dict(family=FONT, size=21, color="black")))
for grp, (off, col, sym) in enumerate([(-.272,"#D9DCD9","circle"),(0,"#96C0E8","square"),(.272,"#F04545","triangle-up")]):
    bars(xr, yr, [i+off for i in range(11)], D_MEANS[grp], D_ERRS[grp], col, .185, D_PTS[grp], [sym]*11, 6.5, .065, 5, lw=1.5)
T(688.6, 666.8, "% of CD3+ Cells", 30, bold=True, angle=-90)
L(741, 816.4, 754, 816.4, 5)
for x0, x1, y in [(759.5,809.3,420.9),(832.7,884.8,595.5),(1047.8,1102,712.6),(1333,1383.6,654.5)]:
    L(x0, y, x1, y, 4)
star(784, 402.5, "*", 30); star(858.5, 577, "*", 30); star(1075, 695, "*", 30); star(1357.8, 634.7, "**", 30)
for x, y, s, z in [(784.7,441,"*",24),(794.4,491,"*",24),(864,616,"*",26),(1079,733,"*",27),(1356.7,674.8,"*",26),(1362.4,730,"**",24)]:
    star(x, y, s, z, "#EE2D24")
bracket(765.8, 631.4, 807.6, 457.7, 468.6); bracket(785.3, 671.5, 807.6, 507.7, 520.5)
bracket(855.6, 748, 876.2, 632.8, 645.6); bracket(1067.8, 787, 1090, 750, 767)
bracket(1336.7, 780, 1377.3, 691.8, 711.6); bracket(1354.4, 787, 1376, 746.6, 766)
R(1347.5, 433, 1523.7, 565.3, 2.5)
legend_block(1371, [460,500,542], 1399.5, [463,504,545.5], 30.5, 16)
T(1109, 1075, "Top 50 Clone Frequencies by Cluster", 26.5, bold=True)

T(38.7, 381, "B", 43); T(35.8, 698.7, "C", 45); T(684.6, 381, "D", 43); T(36, 1126, "E", 45)

# ---------------- Panel E ----------------
R(21, 1160, 761, 1727.5, 5.5, "#F06FAB"); R(768.6, 1160, 1269.7, 1727.5, 5.5, "#F37021"); R(1279, 1160, 1542, 1727.5, 5.5, "#1F6DB5")
T(408, 1136, "Activation &amp; Cytotoxicity", 28.7, "#EC1E79", bold=True)
T(1022.6, 1136, "Chemokines &amp; Homing", 28.7, "#F26522", bold=True)
T(1411.8, 1136, "Exhaustion", 28.7, "#1F5FAD", bold=True)

VLN_PANELS = [
 ("GZMB",GZMB,96,256,1219,1406.7,104.5,247,1398.3,43.75,[0,1,2,3,4],175,1190,48),
 ("GNLY",GNLY,342,501.4,1219,1406.7,350.7,493,1398.3,34.2,[0,1,2,3,4,5],421.8,1190,293.5),
 ("CST7",CST7,586,745,1220.7,1407.7,593,736,1400,52.8,[0,1,2,3],664,1191,537),
 ("NKG7",NKG7,96,256,1495,1682.7,104.5,247,1674,37.7,[0,1,2,3,4],175,1466.7,47),
 ("KLRB1",KLRB1,342,501.4,1496,1684.3,350.7,493,1675.3,52.67,[0,1,2,3],420.8,1467,293.5),
 ("IL32",IL32,588.4,747.6,1496.7,1684,596.4,738.6,1675.3,44,[0,1,2,3,4],667.5,1467,539.7),
 ("CCL5",CCL5,834.7,993.7,1219.3,1406.7,842.3,984,1398.3,38.6,[0,1,2,3,4],913.4,1190,785.4),
 ("CCL4",CCL4,1098.3,1258.9,1219.3,1406.7,1107,1248.7,1398.3,40.6,[0,1,2,3,4],1177.6,1190,1030.8),
 ("LGALS1",LGALS1,1363,1523,1219,1406.7,1371,1512.9,1398.3,43.6,[0,1,2,3,4],1441.7,1190,1294.4),
 ("CCL4L2",CCL4L2,834.7,993.7,1496,1684.3,842.3,984,1675.3,49.3,[0,1,2,3],913.4,1467,785.4),
 ("CXCR3",CXCR3,1098.3,1258.9,1496,1684.3,1107,1248.7,1675.7,77.3,[0,.5,1,1.5,2],1177.6,1467,1030.8),
 ("TIGIT",TIGIT,1363,1523,1496,1684.3,1371,1512.9,1675.3,81.5,[0,.5,1,1.5,2],1441.7,1467,1294.4),
]
for name, g, left, right, top, bottom, x0px, x10px, y0px, yu, yt, tx, ty, ytx in VLN_PANELS:
    xu = (x10px-x0px)/10
    xt = list(range(11))
    ticktxt = [f'<span style="color:#EE1C25">{n}</span>' if i in RED_CLUSTERS else n for i, n in enumerate(VLN_TICK_NAMES)]
    ytxt = [f"{v:.1f}" for v in yt] if any(v != int(v) for v in yt) else [str(int(v)) for v in yt]
    xr, yr = panel(left, right, top, bottom, x0px, xu, y0px, yu,
        dict(tickvals=xt, ticktext=ticktxt, tickangle=-45, ticklen=8, tickwidth=2, linewidth=2.5, ticklabelstandoff=-12, tickfont=dict(family=FONT, size=24, color="black")),
        dict(tickvals=yt, ticktext=ytxt, ticklen=4, tickwidth=2, linewidth=2.5, tickfont=dict(family=FONT, size=22, color="black")))
    neck = g["neck"]
    levels = SPARSE_LEVELS if g.get("sparse") else LEVELS
    dx, dy = [], []
    fig.add_trace(go.Scatter(x=[-0.3,10.3], y=[0,0], mode="lines", line=dict(color="#3a3a3a", width=3.5), xaxis=xr, yaxis=yr, hoverinfo="skip", showlegend=False))
    for i in range(11):
        m, b, p, w = g["maxv"][i], g["base"][i], g["peak"][i], g["pw"][i]
        prof = []
        if b > 0:
            prof += [(0,b),(neck*.5,b*.42),(neck,.03)]
        else:
            prof += [(0,.02)]
        if w > 0:
            lo = max(neck*1.02, p*.55) if b > 0 else p*.5
            if lo >= p:
                lo = p*.8
            hi = p + (m-p)*.55
            prof += [(lo,.03),((lo+p)/2,w*.7),(p,w),((p+hi)/2,w*.7),(hi,.04)]
        prof += [(m,.015)]
        xs = [i-q[1] for q in prof] + [i+q[1] for q in reversed(prof)]
        ys = [q[0] for q in prof] + [q[0] for q in reversed(prof)]
        fig.add_trace(go.Scatter(x=xs, y=ys, mode="lines", fill="toself", fillcolor=VLN_COLORS[i], line=dict(color="#262626", width=2.8), xaxis=xr, yaxis=yr, hoverinfo="skip", showlegend=False))
        for lv in levels:
            if lv <= m:
                dx.append(i); dy.append(lv)
        dx.append(i); dy.append(m)
    fig.add_trace(go.Scatter(x=dx, y=dy, mode="markers", marker=dict(color="black", size=5), xaxis=xr, yaxis=yr, hoverinfo="skip", showlegend=False))
    T(tx, ty, name, 31, bold=True)
    T(ytx, (top+bottom)/2+(2 if top<1400 else 1), "Expression Level", 27, angle=-90)

T(789, 1777, "Cluster", 28)
L(43.8, 1773.3, 728.7, 1773.3, 2.5); L(849, 1773.3, 1529.6, 1773.3, 2.5)
R(2.5, 3.5, 1553.5, 1796.7, 1.5, "#444")

layout[f"xaxis{OV}"] = dict(domain=[0,1], range=[0,W], visible=False, fixedrange=True, anchor=f"y{OV}", automargin=False)
layout[f"yaxis{OV}"] = dict(domain=[0,1], range=[H,0], visible=False, fixedrange=True, anchor=f"x{OV}", automargin=False)
fig.add_trace(go.Scatter(x=ov_x, y=ov_y, mode="markers", marker=dict(color=ov_c, size=ov_s, symbol=ov_m, opacity=1), xaxis=f"x{OV}", yaxis=f"y{OV}", hoverinfo="skip", showlegend=False))

fig.update_layout(width=W, height=H, margin=dict(l=0,r=0,t=0,b=0,autoexpand=False), autosize=False, paper_bgcolor="white", plot_bgcolor="rgba(0,0,0,0)",
                  showlegend=False, bargap=0, shapes=shapes, annotations=annos, font=dict(family=FONT), **layout)
fig.write_html("out.html", post_script="document.body.style.margin='0';", config=dict(displayModeBar=False))
